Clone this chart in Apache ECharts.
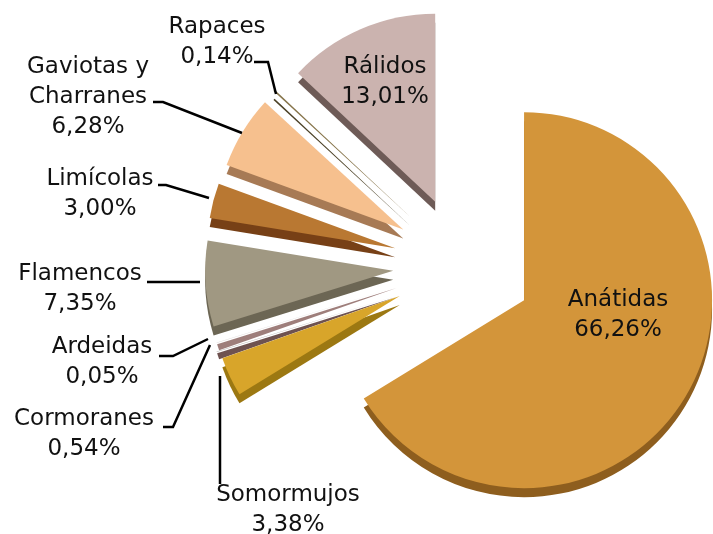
<!DOCTYPE html>
<html><head><meta charset="utf-8">
<script src="https://cdn.jsdelivr.net/npm/echarts@6/dist/echarts.min.js"></script>
<style>html,body{margin:0;padding:0;background:#fff}#c{width:713px;height:534px}</style>
</head><body><div id="c"></div>
<script>
// ---- data ----
const categories = ['Anátidas','Somormujos','Cormoranes','Ardeidas','Flamencos','Limícolas','Gaviotas y Charranes','Rapaces','Rálidos'];
const percentages = [66.26, 3.38, 0.54, 0.05, 7.35, 3.00, 6.28, 0.14, 13.01];
const labelNames = ['Anátidas','Somormujos','Cormoranes','Ardeidas','Flamencos','Limícolas','Gaviotas y\nCharranes','Rapaces','Rálidos'];

// ---- styles ----
const topColors  = ['#D3953A','#D8A52A','#9E7E7B','#E2DEDD','#A09882','#B97832','#F6C08E','#86744A','#CBB3AF'];
const sideColors = ['#8E5E1E','#9C7812','#6E5250','#B5B0AE','#6C6654','#774016','#A77A55','#4B4126','#6E5B57'];

// label block centres and leader-line routes (layout only)
const labelLayoutCfg = {
  'Anátidas':   {x: 618, y: 315},
  'Rálidos':    {x: 385, y: 82},
  'Rapaces':    {x: 217, y: 42,  line: [[254,62],[268,62],[276,94]]},
  'Gaviotas y Charranes': {x: 88, y: 97, line: [[153,102],[163,102],[242,133]]},
  'Limícolas':  {x: 100, y: 194, line: [[158,185],[166,185],[209,198]]},
  'Flamencos':  {x: 80,  y: 289, line: [[147,282],[200,282]]},
  'Ardeidas':   {x: 102, y: 362, line: [[159,356],[173,356],[208,339]]},
  'Cormoranes': {x: 84,  y: 434, line: [[163,427],[173,427],[210,345]]},
  'Somormujos': {x: 288, y: 510, line: [[220,484],[220,376]]}
};

const fmt = v => v.toFixed(2).replace('.', ',') + '%';

const topData = categories.map((c, i) => ({
  name: c, value: percentages[i], selected: true,
  itemStyle: {color: topColors[i]}
}));
const sideData = categories.map((c, i) => ({
  name: c, value: percentages[i], selected: true,
  itemStyle: {color: sideColors[i]}
}));

const graphics = [];
categories.forEach((c, i) => {
  const cfg = labelLayoutCfg[c];
  if (cfg.line) {
    graphics.push({
      type: 'polyline', z: 10, silent: true,
      shape: {points: cfg.line},
      style: {stroke: '#000', lineWidth: 2.5, fill: null}
    });
  }
  graphics.push({
    type: 'text', z: 11, silent: true,
    style: {
      x: cfg.x, y: cfg.y,
      text: labelNames[i] + '\n' + fmt(percentages[i]),
      align: 'center', verticalAlign: 'middle',
      font: '23px "DejaVu Sans"', lineHeight: 30,
      fill: '#111111'
    }
  });
});

const chart = echarts.init(document.getElementById('c'), null, {renderer: 'canvas'});
const common = {
  type: 'pie',
  radius: 188,
  startAngle: 90,
  clockwise: true,
  selectedMode: 'multiple',
  selectedOffset: 70,
  avoidLabelOverlap: false,
  animation: false,
  minAngle: 0,
  emphasis: {disabled: true},
  label: {show: false}, labelLine: {show: false}
};
chart.setOption({
  backgroundColor: '#ffffff',
  animation: false,
  graphic: graphics,
  series: [
    Object.assign({}, common, {name: 'side', center: [463, 275], z: 1, silent: true, data: sideData}),
    Object.assign({}, common, {name: 'top', center: [463, 266], z: 2, data: topData})
  ]
});
</script>
</body></html>
